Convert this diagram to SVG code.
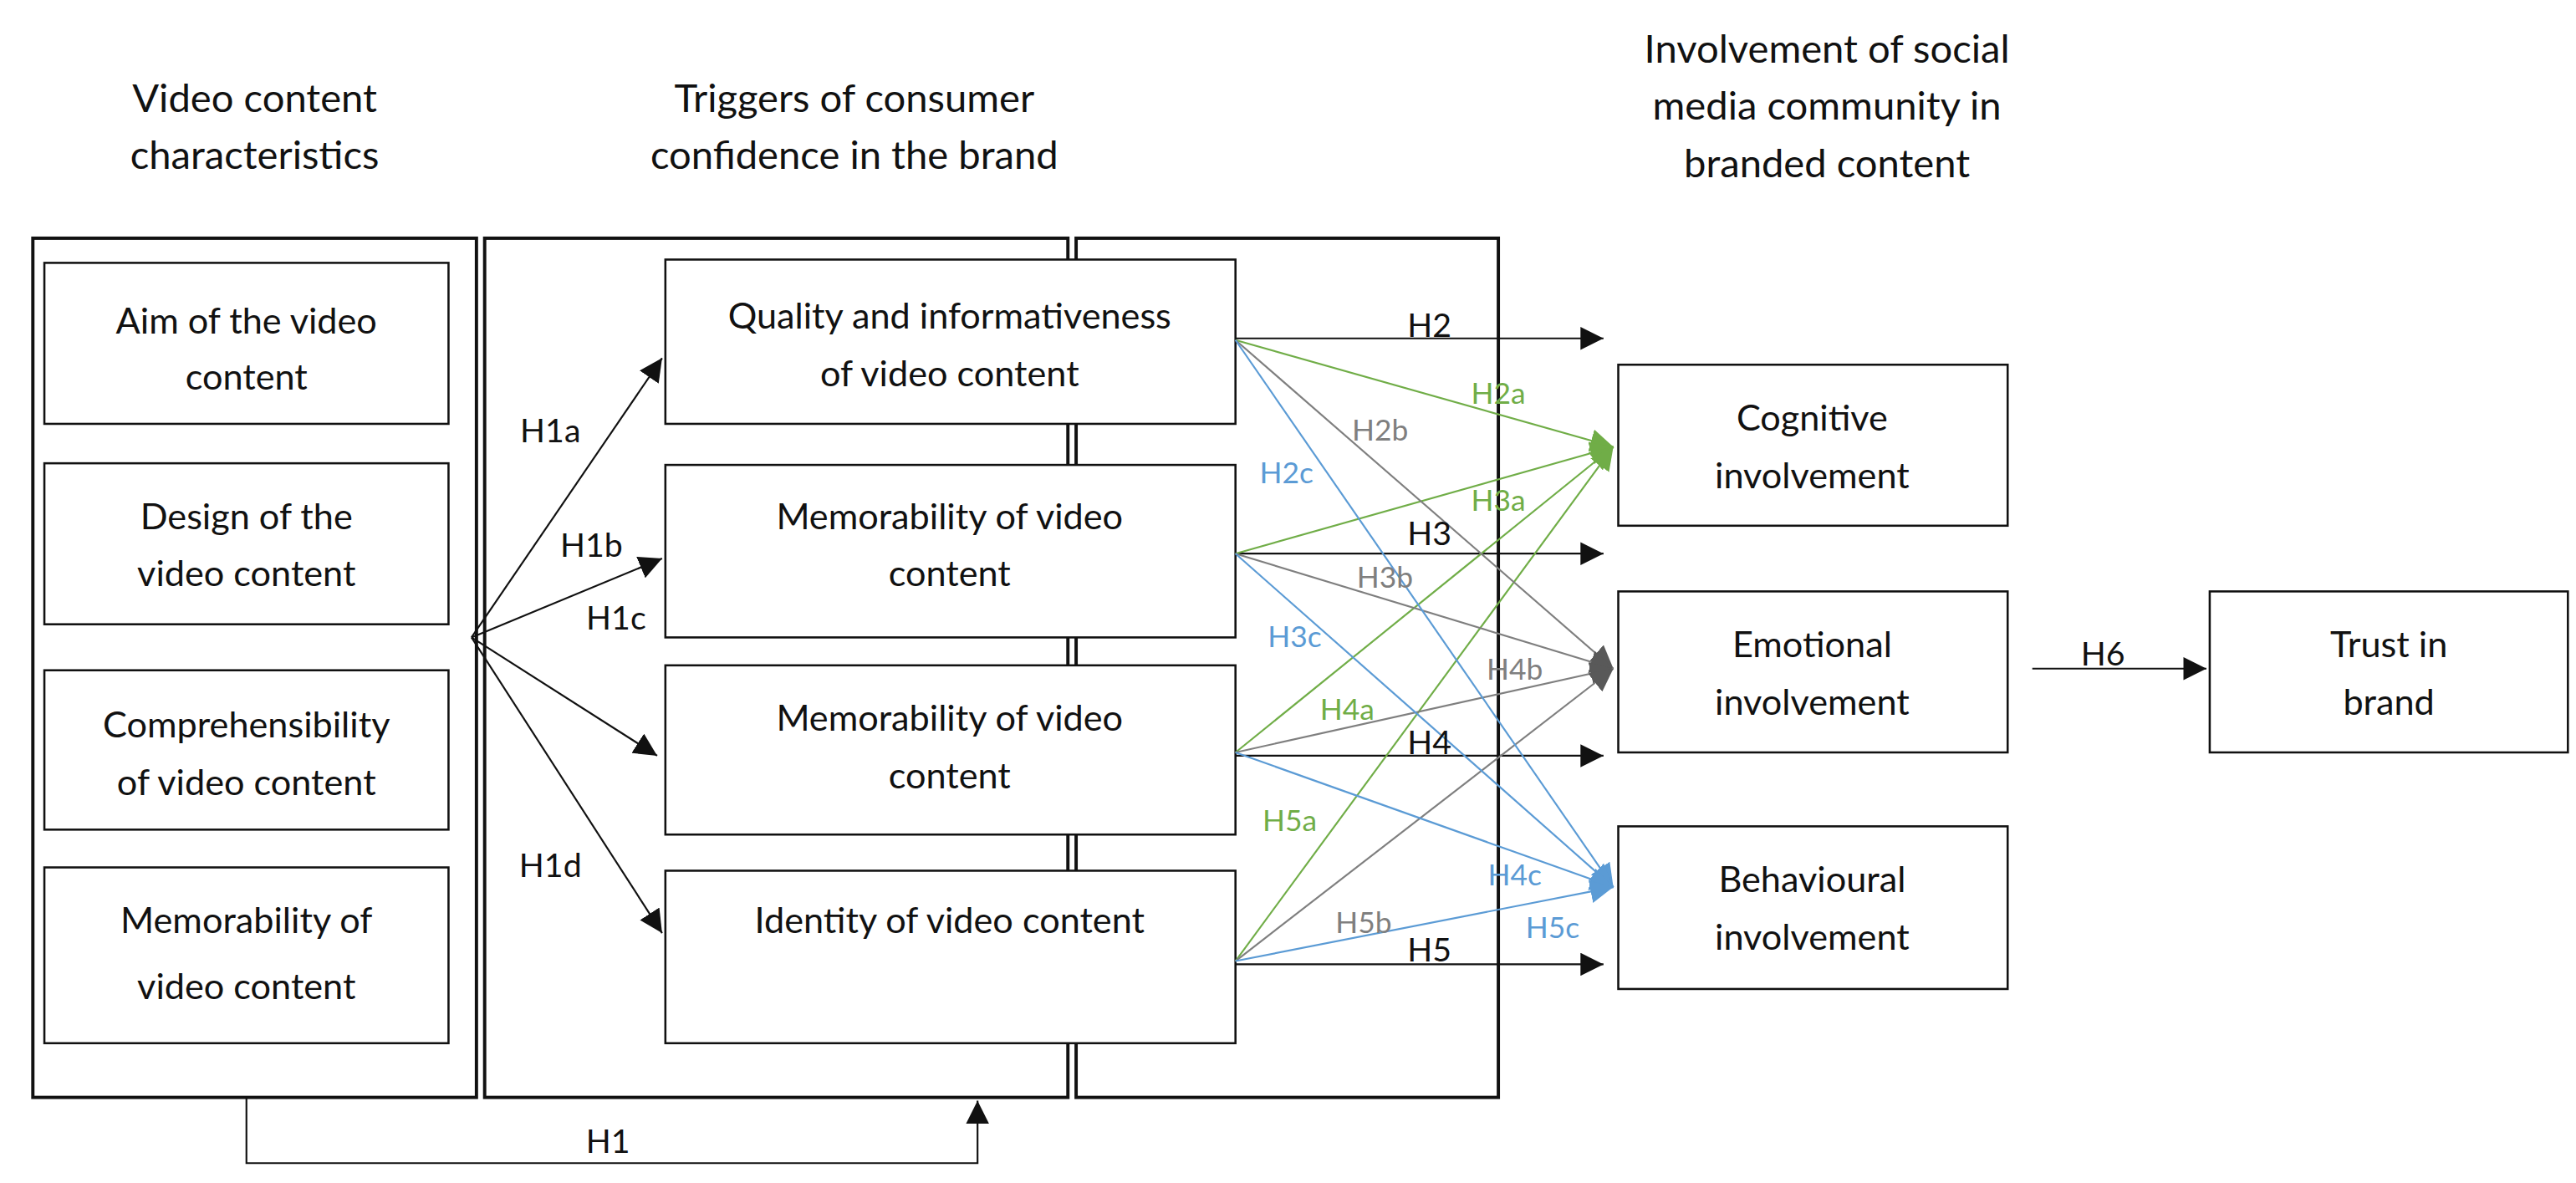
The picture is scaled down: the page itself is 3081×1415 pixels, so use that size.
<svg xmlns="http://www.w3.org/2000/svg" width="3081" height="1415" viewBox="0 0 3081 1415">
<style>
text{font-family:Lato,"Open Sans","Liberation Sans",sans-serif;font-size:22px;fill:#111;text-anchor:middle}
.t{font-size:24px}
.b{fill:#fff;stroke:#111;stroke-width:1.3}
.c{fill:none;stroke:#111;stroke-width:2}
.k{stroke:#111;stroke-width:1.1;fill:none}
.g{stroke:#70ad47;stroke-width:1.1;fill:none}
.y{stroke:#7f7f7f;stroke-width:1.1;fill:none}
.u{stroke:#5b9bd5;stroke-width:1.1;fill:none}
.lg{fill:#70ad47;font-size:18px}.ly{fill:#7f7f7f;font-size:18px}.lu{fill:#5b9bd5;font-size:18px}.lk{font-size:20px}
</style>
<defs>
<marker id="ak" markerUnits="userSpaceOnUse" viewBox="0 0 10 10" refX="10" refY="5" markerWidth="14" markerHeight="14" orient="auto"><path d="M0,0L10,5L0,10z" fill="#111"/></marker>
<marker id="ag" markerUnits="userSpaceOnUse" viewBox="0 0 10 10" refX="10" refY="5" markerWidth="14" markerHeight="14" orient="auto"><path d="M0,0L10,5L0,10z" fill="#70ad47"/></marker>
<marker id="ay" markerUnits="userSpaceOnUse" viewBox="0 0 10 10" refX="10" refY="5" markerWidth="14" markerHeight="14" orient="auto"><path d="M0,0L10,5L0,10z" fill="#595959"/></marker>
<marker id="au" markerUnits="userSpaceOnUse" viewBox="0 0 10 10" refX="10" refY="5" markerWidth="14" markerHeight="14" orient="auto"><path d="M0,0L10,5L0,10z" fill="#5b9bd5"/></marker>
</defs>
<rect width="3081" height="1415" fill="#fff"/>
<g transform="scale(1.965)">
<g id="titles">
<text class="t" x="155" y="68">Video content</text><text class="t" x="155" y="103">characteristics</text>
<text class="t" x="520" y="68">Triggers of consumer</text><text class="t" x="520" y="103">confidence in the brand</text>
<text class="t" x="1112" y="38">Involvement of social</text><text class="t" x="1112" y="73">media community in</text><text class="t" x="1112" y="108">branded content</text>
</g>
<g id="containers">
<rect class="c" x="20" y="145" width="270" height="523"/>
<rect class="c" x="295" y="145" width="355" height="523"/>
<rect class="c" x="655" y="145" width="257" height="523"/>
</g>
<g id="n-aim"><rect class="b" x="27" y="160" width="246" height="98"/><text x="150" y="203">Aim of the video</text><text x="150" y="237">content</text></g>
<g id="n-design"><rect class="b" x="27" y="282" width="246" height="98"/><text x="150" y="322">Design of the</text><text x="150" y="357">video content</text></g>
<g id="n-compr"><rect class="b" x="27" y="408" width="246" height="97"/><text x="150" y="449">Comprehensibility</text><text x="150" y="484">of video content</text></g>
<g id="n-memo1"><rect class="b" x="27" y="528" width="246" height="107"/><text x="150" y="568">Memorability of</text><text x="150" y="608">video content</text></g>
<g id="n-quality"><rect class="b" x="405" y="158" width="347" height="100"/><text x="578" y="200">Quality and informativeness</text><text x="578" y="235">of video content</text></g>
<g id="n-memo2"><rect class="b" x="405" y="283" width="347" height="105"/><text x="578" y="322">Memorability of video</text><text x="578" y="357">content</text></g>
<g id="n-memo3"><rect class="b" x="405" y="405" width="347" height="103"/><text x="578" y="445">Memorability of video</text><text x="578" y="480">content</text></g>
<g id="n-identity"><rect class="b" x="405" y="530" width="347" height="105"/><text x="578" y="568">Identity of video content</text></g>
<g id="n-cog"><rect class="b" x="985" y="222" width="237" height="98"/><text x="1103" y="262">Cognitive</text><text x="1103" y="297">involvement</text></g>
<g id="n-emo"><rect class="b" x="985" y="360" width="237" height="98"/><text x="1103" y="400">Emotional</text><text x="1103" y="435">involvement</text></g>
<g id="n-beh"><rect class="b" x="985" y="503" width="237" height="99"/><text x="1103" y="543">Behavioural</text><text x="1103" y="578">involvement</text></g>
<g id="n-trust"><rect class="b" x="1345" y="360" width="218" height="98"/><text x="1454" y="400">Trust in</text><text x="1454" y="435">brand</text></g>
<g id="connectors">
<path class="k" marker-end="url(#ak)" d="M287,388L403,218"/>
<path class="k" marker-end="url(#ak)" d="M287,388L403,340"/>
<path class="k" marker-end="url(#ak)" d="M287,388L400,460"/>
<path class="k" marker-end="url(#ak)" d="M287,388L403,568"/>
<path class="k" marker-end="url(#ak)" d="M150,668V708H595V670"/>
<path class="k" marker-end="url(#ak)" d="M752,206H976"/>
<path class="k" marker-end="url(#ak)" d="M752,337H976"/>
<path class="k" marker-end="url(#ak)" d="M752,460H976"/>
<path class="k" marker-end="url(#ak)" d="M752,587H976"/>
<path class="k" marker-end="url(#ak)" d="M1237,407H1343"/>
<path class="g" marker-end="url(#ag)" d="M752,207L982,272"/><path class="g" marker-end="url(#ag)" d="M752,337L982,272"/><path class="g" marker-end="url(#ag)" d="M752,458L982,272"/><path class="g" marker-end="url(#ag)" d="M752,585L982,272"/>
<path class="y" marker-end="url(#ay)" d="M752,207L982,407"/><path class="y" marker-end="url(#ay)" d="M752,337L982,407"/><path class="y" marker-end="url(#ay)" d="M752,458L982,407"/><path class="y" marker-end="url(#ay)" d="M752,585L982,407"/>
<path class="u" marker-end="url(#au)" d="M752,207L982,540"/><path class="u" marker-end="url(#au)" d="M752,337L982,540"/><path class="u" marker-end="url(#au)" d="M752,458L982,540"/><path class="u" marker-end="url(#au)" d="M752,585L982,540"/>
</g>
<g id="labels">
<text class="lk" x="335" y="269">H1a</text><text class="lk" x="360" y="339">H1b</text><text class="lk" x="375" y="383">H1c</text><text class="lk" x="335" y="534">H1d</text>
<text class="lk" x="370" y="702">H1</text>
<text class="lk" x="870" y="205">H2</text><text class="lk" x="870" y="332">H3</text><text class="lk" x="870" y="459">H4</text><text class="lk" x="870" y="585">H5</text>
<text class="lk" x="1280" y="405">H6</text>
<text class="lg" x="912" y="246">H2a</text><text class="lg" x="912" y="311">H3a</text><text class="lg" x="820" y="438">H4a</text><text class="lg" x="785" y="506">H5a</text>
<text class="ly" x="840" y="268">H2b</text><text class="ly" x="843" y="358">H3b</text><text class="ly" x="922" y="414">H4b</text><text class="ly" x="830" y="568">H5b</text>
<text class="lu" x="783" y="294">H2c</text><text class="lu" x="788" y="394">H3c</text><text class="lu" x="922" y="539">H4c</text><text class="lu" x="945" y="571">H5c</text>
</g>
</g>
</svg>
